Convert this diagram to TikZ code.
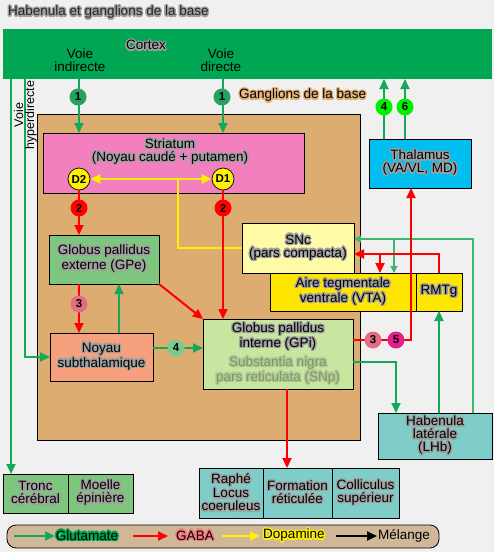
\documentclass[tikz,border=0pt]{standalone}
\usepackage{fontspec}
\setmainfont{Liberation Sans}
\usepackage[copies]{contour}
\usetikzlibrary{arrows.meta,calc}
\contourlength{1.3pt}
\contournumber{16}

\definecolor{bggray}{RGB}{240,240,240}
\definecolor{ctxgreen}{RGB}{0,166,81}
\definecolor{glugreen}{RGB}{20,168,90}
\definecolor{gluthin}{RGB}{60,182,115}
\definecolor{tanbox}{RGB}{220,172,112}
\definecolor{tanhalo}{RGB}{226,176,118}
\definecolor{pinkbox}{RGB}{242,128,191}
\definecolor{gpegreen}{RGB}{126,198,126}
\definecolor{stnsalmon}{RGB}{246,160,126}
\definecolor{gpigreen}{RGB}{200,230,160}
\definecolor{sncyellow}{RGB}{255,250,165}
\definecolor{vtayellow}{RGB}{255,230,0}
\definecolor{thalcyan}{RGB}{0,190,240}
\definecolor{tealbox}{RGB}{126,205,200}
\definecolor{legfill}{RGB}{208,183,152}
\definecolor{halogray}{RGB}{160,160,160}
\definecolor{snptext}{RGB}{125,150,100}
\definecolor{snphalo}{RGB}{178,200,150}
\definecolor{dopayellow}{RGB}{255,240,0}
\definecolor{onegreen}{RGB}{40,160,100}
\definecolor{fourlight}{RGB}{125,200,140}
\definecolor{brightgreen}{RGB}{0,240,0}
\definecolor{threepink}{RGB}{225,110,130}
\definecolor{fivemag}{RGB}{230,30,140}
\definecolor{gabahalo}{RGB}{245,120,120}

\newcommand\hl[2][halogray]{\contour{#1}{#2}}

\tikzset{
  box/.style={draw=black, line width=0.8pt, inner sep=0pt, outer sep=0pt, align=center},
  numc/.style={circle, minimum size=17pt, inner sep=0pt, font=\bfseries\fontsize{11.5}{11.5}\selectfont},
  dcirc/.style={circle, draw=black, line width=0.7pt, fill=yellow, minimum size=22pt, inner sep=0pt, font=\bfseries\fontsize{11.5}{11.5}\selectfont},
  glu/.style={draw=glugreen, line width=2pt, -{Triangle[length=10pt,width=9pt]}},
  gabaarr/.style={draw=red, line width=2pt, -{Triangle[length=10pt,width=9pt]}},
  gluthinarr/.style={draw=gluthin, line width=1.3pt, -{Triangle[length=7pt,width=7pt]}},
  dopaline/.style={draw=dopayellow, line width=2pt},
  blackarr/.style={draw=black, line width=2pt, -{Triangle[length=10pt,width=9pt]}},
}

\begin{document}
\begin{tikzpicture}[x=1pt, y=-1pt, font=\fontsize{13.5}{13}\selectfont]
\useasboundingbox (0,0) rectangle (494,552);
\fill[bggray] (0,0) rectangle (494,552);

% title
\node[anchor=west, inner sep=0pt, text=black!85] (title) at (8,13) {\hl{Habenula et ganglions de la base}};

% cortex
\node[inner sep=0pt, outer sep=0pt, fill=ctxgreen, minimum width=489pt, minimum height=50pt] (cortex) at (247.5,54) {};
\node (cortextxt) at (146,46) {\hl{Cortex}};
\node[align=center, inner sep=0pt] (vind) at (80,60.5) {Voie\\indirecte};
\node[align=center, inner sep=0pt] (vdir) at (221,60.5) {Voie\\directe};

% basal ganglia background
\node[box, fill=tanbox, minimum width=323pt, minimum height=326pt] (bg) at (198.5,277) {};
\node[anchor=west, inner sep=0pt] (bglabel) at (239,96) {\hl[tanhalo]{Ganglions de la base}};

% boxes
\node[box, fill=pinkbox, minimum width=261pt, minimum height=60pt] (striatum) at (173.5,163) {};
\node[align=center, inner sep=0pt] (striatumtxt) at (170,152) {\hl{Striatum}\\\hl{(Noyau caudé + putamen)}};
\node[dcirc] (D2) at (79,179) {D2};
\node[dcirc] (D1) at (223,179) {D1};

\node[box, fill=gpegreen, minimum width=110pt, minimum height=49pt] (GPe) at (104,259.5) {\hl{Globus pallidus}\\\hl{externe (GPe)}};
\node[box, fill=stnsalmon, minimum width=103pt, minimum height=48pt] (STN) at (101.5,357) {\hl{Noyau}\\\hl{subthalamique}};
\node[box, fill=gpigreen, minimum width=150pt, minimum height=70pt] (GPi) at (278,354) {\hl{Globus pallidus}\\\hl{interne (GPi)}\\[4pt]\textcolor{snptext}{\hl[snphalo]{Substantia nigra}}\\\textcolor{snptext}{\hl[snphalo]{pars reticulata (SNp)}}};
\node[box, fill=sncyellow, minimum width=112pt, minimum height=50pt] (SNc) at (298,248) {\hl{SNc}\\\hl{(pars compacta)}};
\node[box, fill=vtayellow, minimum width=146pt, minimum height=38pt] (VTA) at (343,292) {\hl{Aire tegmentale}\\\hl{ventrale (VTA)}};
\node[box, fill=vtayellow, minimum width=46pt, minimum height=38pt] (RMTg) at (439,292) {\hl{RMTg}};
\node[box, fill=thalcyan, minimum width=102pt, minimum height=49pt] (thal) at (420,163.5) {\hl{Thalamus}\\\hl{(VA/VL, MD)}};
\node[box, fill=tealbox, minimum width=114pt, minimum height=46pt] (LHb) at (435,436) {\hl{Habenula}\\\hl{latérale}\\\hl{(LHb)}};

\node[box, fill=gpegreen, minimum width=65pt, minimum height=39pt] (Tronc) at (35.5,493.5) {\hl{Tronc}\\\hl{cérébral}};
\node[box, fill=gpegreen, minimum width=65pt, minimum height=39pt] (Moelle) at (100.5,493.5) {\hl{Moelle}\\\hl{épinière}};
\node[box, fill=tealbox, minimum width=64pt, minimum height=50pt] (Raphe) at (231,493) {\hl{Raphé}\\\hl{Locus}\\\hl{coeruleus}};
\node[box, fill=tealbox, minimum width=69pt, minimum height=50pt] (Form) at (297.5,493) {\hl{Formation}\\\hl{réticulée}};
\node[box, fill=tealbox, minimum width=67pt, minimum height=50pt] (Coll) at (365.5,493) {\hl{Colliculus}\\\hl{supérieur}};

% helper coordinates
\coordinate (hypstart) at ($(cortex.south west)+(22,0)$);
\coordinate (outstart) at ($(cortex.south west)+(8,0)$);
\coordinate (stnup) at ($(STN.north)+(17.5,0)$);
\coordinate (stnout) at ($(STN.east)+(0,-9)$);
\coordinate (th1) at ($(thal.north)+(-36,0)$);
\coordinate (th2) at ($(thal.north)+(-15,0)$);
\coordinate (gpiout) at ($(GPi.east)+(0,-14)$);
\coordinate (thin) at ($(thal.south)+(-9,0)$);
\coordinate (gpidown) at ($(GPi.south)+(9,0)$);
\coordinate (gpiout2) at ($(GPi.east)+(0,8)$);
\coordinate (lhbin) at ($(LHb.north)+(-39,0)$);
\coordinate (sncr) at ($(SNc.east)+(0,6)$);
\coordinate (vtar) at ($(VTA.north)+(37,0)$);
\coordinate (lhbup) at ($(LHb.north)+(38,0)$);
\coordinate (sncg) at ($(SNc.east)+(0,-9)$);
\coordinate (vtag) at ($(VTA.north)+(51,0)$);
\coordinate (dsplit) at ($(D2)!0.6875!(D1)$);

% cortical outputs
\draw[glu] (D2 |- cortex.south) -- (D2 |- striatum.north);
\draw[glu] (D1 |- cortex.south) -- (D1 |- striatum.north);
\draw[glu] (hypstart) |- (STN.west);
\draw[glu] (outstart) -- (outstart |- Tronc.north);
\node[rotate=90, align=center, inner sep=0pt, font=\fontsize{12.5}{11}\selectfont] (hyptxt) at (25.5,115) {Voie\\hyperdirecte};

% dopamine
\draw[dopaline] (SNc.west) -| (dsplit);
\draw[dopaline, {Triangle[length=10pt,width=9pt]}-{Triangle[length=10pt,width=9pt]}] (D2) -- (D1);

% striatal outputs
\draw[gabaarr] (D2) -- (D2 |- GPe.north);
\draw[gabaarr] (D1) -- (D1 |- GPi.north);

% GPe / STN
\draw[gabaarr] (GPe.south -| D2) -- (STN.north -| D2);
\draw[glu] (stnup) -- (stnup |- GPe.south);
\draw[gabaarr] (GPe.south east) -- (GPi.north west);
\draw[glu] (stnout) -- (stnout -| GPi.west);

% GPi outputs
\draw[gabaarr] (gpidown) -- (gpidown |- Form.north);
\draw[glu] (gpiout2) -| (lhbin);

% LHb / RMTg
\draw[glu] (RMTg.south |- LHb.north) -- (RMTg.south);
\draw[gluthinarr] (lhbup) |- (sncg);
\draw[gluthinarr] (vtag |- sncg) -- (vtag);
\draw[gabaarr] (RMTg.north) |- (sncr);
\draw[gabaarr] (vtar |- sncr) -- (vtar);

% GPi -> thalamus
\draw[gabaarr] (gpiout) -| (thin);

% thalamus -> cortex
\draw[glu] (th1) -- (th1 |- cortex.south);
\draw[glu] (th2) -- (th2 |- cortex.south);

% number circles
\node[numc, fill=onegreen] (n1a) at (78,97) {1};
\node[numc, fill=onegreen] (n1b) at (222,97) {1};
\node[numc, fill=red] (n2a) at (79,208) {2};
\node[numc, fill=red] (n2b) at (223,208) {2};
\node[numc, fill=threepink] (n3a) at (79,304) {3};
\node[numc, fill=fourlight] (n4a) at (176,348) {4};
\node[numc, fill=threepink] (n3b) at (373,340) {3};
\node[numc, fill=fivemag] (n5) at (396,340) {5};
\node[numc, fill=brightgreen] (n4b) at (384,107) {4};
\node[numc, fill=brightgreen] (n6) at (405,107) {6};

% legend
\node[draw=black, line width=0.8pt, fill=legfill, rounded corners=9pt, minimum width=432pt, minimum height=23pt, inner sep=0pt] (legend) at (223,536.5) {};
\coordinate (lga) at (14,536);
\coordinate (lgb) at (55,536);
\coordinate (lgc) at (133,536);
\coordinate (lgd) at (168,536);
\coordinate (lge) at (222,536);
\coordinate (lgf) at (260,536);
\coordinate (lgg) at (336,536);
\coordinate (lgh) at (377,536);
\draw[glu] (lga) -- (lgb);
\draw[gabaarr] (lgc) -- (lgd);
\draw[dopaline, -{Triangle[length=10pt,width=9pt]}] (lge) -- (lgf);
\draw[blackarr] (lgg) -- (lgh);
\node[inner sep=0pt] (lglu) at (87,536) {\hl[ctxgreen]{Glutamate}};
\node[inner sep=0pt] (lgaba) at (195,536) {\hl[gabahalo]{GABA}};
\node[inner sep=0pt] (ldopa) at (294,536) {\hl[yellow]{Dopamine}};
\node[inner sep=0pt] (lmel) at (404,536) {Mélange};
\end{tikzpicture}
\end{document}
